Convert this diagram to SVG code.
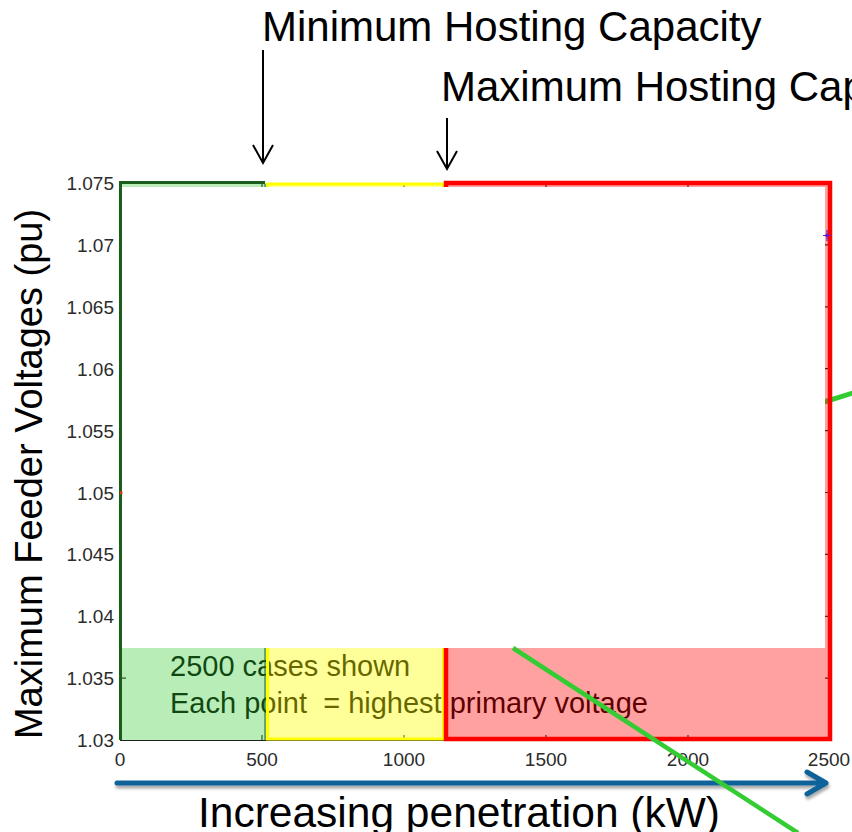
<svg xmlns="http://www.w3.org/2000/svg" width="852" height="832" viewBox="0 0 852 832">
  <style>
    .t { font-family: "Liberation Sans", Arial, sans-serif; fill: #000; }
    .tick { font-family: "Liberation Sans", Arial, sans-serif; font-size: 19px; fill: #2b2b2b; }
    .ytk { text-anchor: end; }
    .xtk { text-anchor: middle; }
    .tm { stroke: #222; stroke-width: 1.2; fill: none; }
    .ann { stroke: #000; stroke-width: 2; fill: none; }
    .note { font-family: "Liberation Sans", Arial, sans-serif; font-size: 29px; fill: #000; white-space: pre; }
  </style>
  <defs>
    <filter id="shadow" x="-5%" y="-100%" width="110%" height="400%">
      <feDropShadow dx="1" dy="3" stdDeviation="1.8" flood-color="#000" flood-opacity="0.35"/>
    </filter>
  </defs>

  <rect width="852" height="852" fill="#fff"/>

  <!-- axis titles -->
  <text class="t" x="262" y="41" font-size="42">Minimum Hosting Capacity</text>
  <text class="t" x="441" y="101" font-size="42">Maximum Hosting Capacity</text>
  <text class="t" font-size="38" text-anchor="middle" transform="translate(42 474) rotate(-90)">Maximum Feeder Voltages (pu)</text>
  <text class="t" x="459" y="827" font-size="42.5" text-anchor="middle">Increasing penetration (kW)</text>

  <!-- y tick labels -->
  <g id="y-ticks">
    <text class="tick ytk" x="114" y="190">1.075</text>
    <text class="tick ytk" x="114" y="252">1.07</text>
    <text class="tick ytk" x="114" y="314">1.065</text>
    <text class="tick ytk" x="114" y="376">1.06</text>
    <text class="tick ytk" x="114" y="438">1.055</text>
    <text class="tick ytk" x="114" y="500">1.05</text>
    <text class="tick ytk" x="114" y="561">1.045</text>
    <text class="tick ytk" x="114" y="623">1.04</text>
    <text class="tick ytk" x="114" y="685">1.035</text>
    <text class="tick ytk" x="114" y="747">1.03</text>
  </g>
  <!-- x tick labels -->
  <g id="x-ticks">
    <text class="tick xtk" x="120" y="766">0</text>
    <text class="tick xtk" x="262" y="766">500</text>
    <text class="tick xtk" x="404" y="766">1000</text>
    <text class="tick xtk" x="546" y="766">1500</text>
    <text class="tick xtk" x="688" y="766">2000</text>
    <text class="tick xtk" x="829" y="766">2500</text>
  </g>

  <!-- axes box and tick marks (under the tinted zones) -->
  <g id="axes">
    <line class="tm" x1="120" y1="740.5" x2="830" y2="740.5"/>
    <path class="tm" d="M262 740v-5M404 740v-5M546 740v-5M688 740v-5M262 183v5M404 183v5M546 183v5M688 183v5"/>
    <path class="tm" d="M122 244.9h4M122 306.8h4M122 368.7h4M122 430.6h4M122 492.5h4M122 554.4h4M122 616.3h4M122 678.2h4"/>
    <path class="tm" d="M829 244.9h-4M829 306.8h-4M829 368.7h-4M829 430.6h-4M829 492.5h-4M829 554.4h-4M829 616.3h-4M829 678.2h-4"/>
  </g>

  <!-- note text -->
  <g id="note">
    <text class="note" x="170" y="676">2500 cases shown</text>
    <text class="note" x="170" y="713">Each point  = highest primary voltage</text>
  </g>

  <!-- trend line entering from the right -->
  <line x1="824" y1="402" x2="856" y2="392" stroke="#33cc33" stroke-width="5"/>

  <!-- tinted hosting-capacity zones -->
  <g id="zones">
    <rect x="120" y="183" width="146" height="557" fill="#33cc33" fill-opacity="0.35"/>
    <rect x="266" y="183" width="178" height="557" fill="#ffff00" fill-opacity="0.4"/>
    <rect x="444" y="183" width="386" height="557" fill="#ff0000" fill-opacity="0.37"/>
  </g>

  <!-- zone outlines -->
  <g id="zone-min">
    <path d="M120.5 740V182.5H265" fill="none" stroke="#1b5e1b" stroke-width="3"/>
    <line x1="265" y1="184" x2="265" y2="740" stroke="#1b5e1b" stroke-width="1"/>
  </g>
  <g id="zone-mid">
    <rect x="267.5" y="184" width="176" height="555" fill="none" stroke="#ffff00" stroke-width="3"/>
  </g>
  <g id="zone-max">
    <rect x="446" y="183" width="384" height="556" fill="none" stroke="#ff0000" stroke-width="4.5"/>
  </g>

  <!-- plot area -->
  <rect id="plot-area" x="122" y="187" width="703" height="461" fill="#fff"/>

  <!-- data markers -->
  <g id="markers">
    <path d="M827 230v11M823 235.5h8" stroke="#6a1fc0" stroke-width="1.2"/>
    <circle cx="827" cy="235.5" r="1.8" fill="#5b1fd0"/>
    <rect x="120" y="491.5" width="2.5" height="2.5" fill="#e04010"/>
  </g>

  <!-- connectors -->
  <g id="connectors">
    <path class="ann" d="M263 50V163M253 145L263 163L273 145"/>
    <path class="ann" d="M447 118V169M437 151L447 169L457 151"/>
    <g filter="url(#shadow)">
      <path d="M117 783H826M807 772L826 783L807 794" fill="none" stroke="#0f6399" stroke-width="5" stroke-linecap="round" stroke-linejoin="round"/>
    </g>
    <line x1="513" y1="648" x2="798" y2="833" stroke="#33cc33" stroke-width="4.5"/>
  </g>
</svg>
